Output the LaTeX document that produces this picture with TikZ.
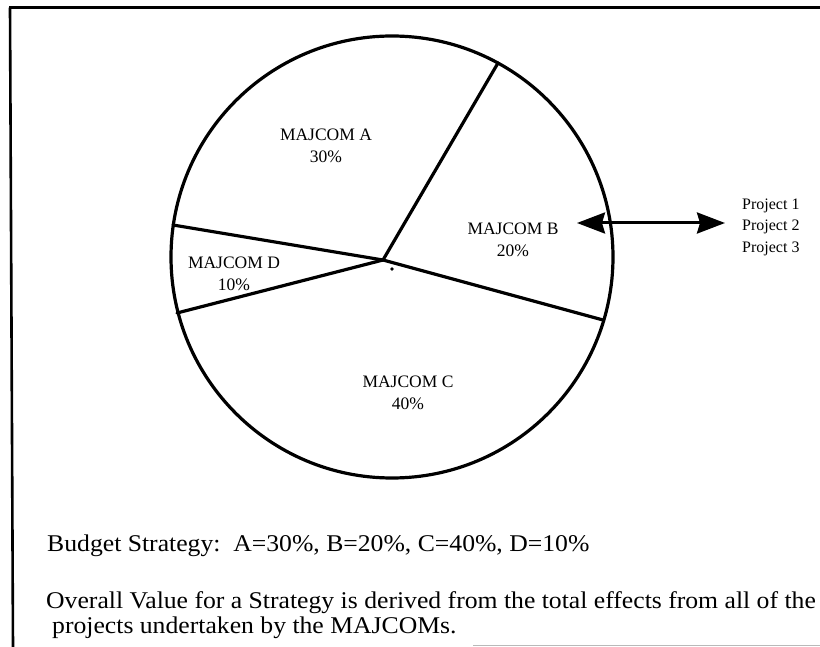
\documentclass[tikz,border=0pt]{standalone}
\usepackage{fontspec}
\setmainfont{Liberation Serif}
\newfontfamily\notefont[FakeStretch=1.07]{Liberation Serif}
\usetikzlibrary{arrows.meta,calc}
\begin{document}
\begin{tikzpicture}[x=1pt,y=-1pt,
  edge/.style={line width=3.2pt,line cap=round,line join=round},
  frameline/.style={line width=2.6pt},
  slicelabel/.style={align=center,inner sep=0pt,font=\fontsize{17.5}{22}\selectfont},
  projlabel/.style={align=left,inner sep=0pt,anchor=west,font=\fontsize{16}{21.5}\selectfont},
  note/.style={anchor=base west,inner sep=0pt,font=\notefont\fontsize{24}{26}\selectfont},
  bigtip/.tip={Stealth[length=28pt,width=21pt,inset=3pt]}]
\useasboundingbox (0,0) rectangle (820,647);
\fill[white] (0,0) rectangle (820,647);
% page frame
\draw[frameline] (9,7.5) -- (820,7.5);
\draw[frameline] (10,7.5) -- (13,647);
\draw[gray!55,line width=0.8pt] (473,645) -- (820,645);
% pie
\coordinate (ctr) at (392,257);
\coordinate (hub) at (383,260);
\coordinate (pAB) at (498,63);
\coordinate (pAD) at (173,225);
\coordinate (pDC) at (177,313);
\coordinate (pCB) at (603,320);
\draw[edge] (ctr) circle (221);
\draw[edge] (hub) -- (pAB);
\draw[edge] (hub) -- (pAD);
\draw[edge] (hub) -- (pDC);
\draw[edge] (hub) -- (pCB);
\fill (392,269) circle (1.9);
% slice labels
\node[slicelabel] (labA) at (326,146) {MAJCOM A\\30\%};
\node[slicelabel] (labB) at (513,240) {MAJCOM B\\20\%};
\node[slicelabel] (labD) at (234,274) {MAJCOM D\\10\%};
\node[slicelabel] (labC) at (408,393) {MAJCOM C\\40\%};
% projects of MAJCOM B
\node[projlabel] (proj) at (742,227) {Project 1\\Project 2\\Project 3};
\coordinate (aL) at (577,223);
\coordinate (aR) at (725,223);
\draw[line width=3pt,bigtip-bigtip] (aL) -- (aR);
% notes
\node[note] (budget) at (47,551) {Budget Strategy:\ \ A=30\%, B=20\%, C=40\%, D=10\%};
\node[note] (overall) at (46,608) {Overall Value for a Strategy is derived from the total effects from all of the};
\node[note] (projs) at (52,633) {projects undertaken by the MAJCOMs.};
\end{tikzpicture}
\end{document}
